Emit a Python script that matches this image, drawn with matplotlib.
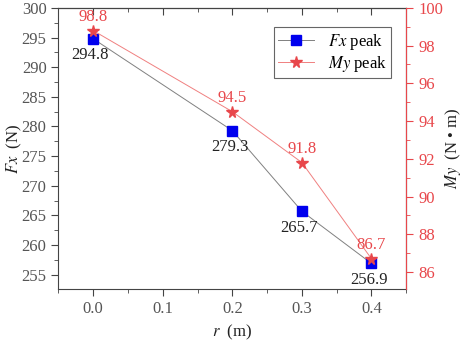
import matplotlib.pyplot as plt
from matplotlib.ticker import MultipleLocator

r = [0.0, 0.2, 0.3, 0.4]
fx_peak = [294.8, 279.3, 265.7, 256.9]
my_peak = [98.8, 94.5, 91.8, 86.7]

red = '#E8474B'
gray = '#444444'

plt.rcParams['font.family'] = ['Liberation Serif', 'DejaVu Serif']
plt.rcParams['mathtext.fontset'] = 'stix'
plt.rcParams['font.size'] = 12

fig, ax = plt.subplots(figsize=(4.67, 3.44), dpi=100)
fig.subplots_adjust(left=0.125, right=0.87, top=0.977, bottom=0.16)
ax2 = ax.twinx()

l1, = ax.plot(r, fx_peak, color='#808080', lw=0.7, marker='s', ms=6.5,
              mfc='#0000EE', mec='#0000EE', label='$Fx$ peak')
l2, = ax2.plot(r, my_peak, color='#F08080', lw=0.7, marker='*', ms=8.5,
               mfc=red, mec=red, label='$My$ peak')

for x, y in zip(r, fx_peak):
    ax.annotate(f'{y}', (x, y), xytext=(-2, -6), textcoords='offset points',
                ha='center', va='top', color='#222222')
for x, y in zip(r, my_peak):
    ax2.annotate(f'{y}', (x, y), xytext=(0, 4), textcoords='offset points',
                 ha='center', va='bottom', color=red)

ax.set_xlim(-0.05, 0.45)
ax.set_ylim(252.6, 300)
ax2.set_ylim(85.1, 100)

ax.xaxis.set_major_locator(MultipleLocator(0.1))
ax.xaxis.set_minor_locator(MultipleLocator(0.05))
ax.yaxis.set_major_locator(MultipleLocator(5))
ax.yaxis.set_minor_locator(MultipleLocator(2.5))
ax2.yaxis.set_major_locator(MultipleLocator(2))
ax2.yaxis.set_minor_locator(MultipleLocator(1))
ax.xaxis.set_major_formatter(plt.FuncFormatter(lambda v, p: f'{v:.1f}'))

ax.tick_params(axis='both', which='both', direction='out', colors=gray, labelcolor='#555555')
ax.tick_params(which='major', length=5)
ax.tick_params(which='minor', length=3)
ax2.tick_params(axis='y', which='both', direction='out', colors=red, labelcolor=red)
ax2.tick_params(which='major', length=5)
ax2.tick_params(which='minor', length=3)

# top ticks point inward
secx = ax.secondary_xaxis('top')
secx.xaxis.set_major_locator(MultipleLocator(0.1))
secx.xaxis.set_minor_locator(MultipleLocator(0.05))
secx.tick_params(which='both', direction='in', labeltop=False, colors=gray)
secx.tick_params(which='major', length=5)
secx.tick_params(which='minor', length=3)

for s in ['left', 'bottom', 'top']:
    ax.spines[s].set_color(gray)
ax2.spines['right'].set_color(red)
ax2.spines['left'].set_visible(False)
ax2.spines['top'].set_visible(False)
ax2.spines['bottom'].set_visible(False)

ax.set_xlabel('$r$  (m)', color='#222222', fontsize=12)
ax.set_ylabel('$Fx$  (N)', color='#222222', fontsize=12)
ax2.set_ylabel('$My$  (N • m)', color='#222222', fontsize=12)
ax.yaxis.set_label_coords(-0.1, 0.5)
ax2.yaxis.set_label_coords(1.105, 0.5)

leg = ax.legend(handles=[l1, l2], loc='upper right', bbox_to_anchor=(0.98, 0.96),
                fancybox=False, edgecolor='#666666', framealpha=1,
                handlelength=2.2, borderpad=0.25, labelspacing=0.15, fontsize=12)
leg.get_frame().set_linewidth(0.8)

plt.savefig('out.png', dpi=100)
